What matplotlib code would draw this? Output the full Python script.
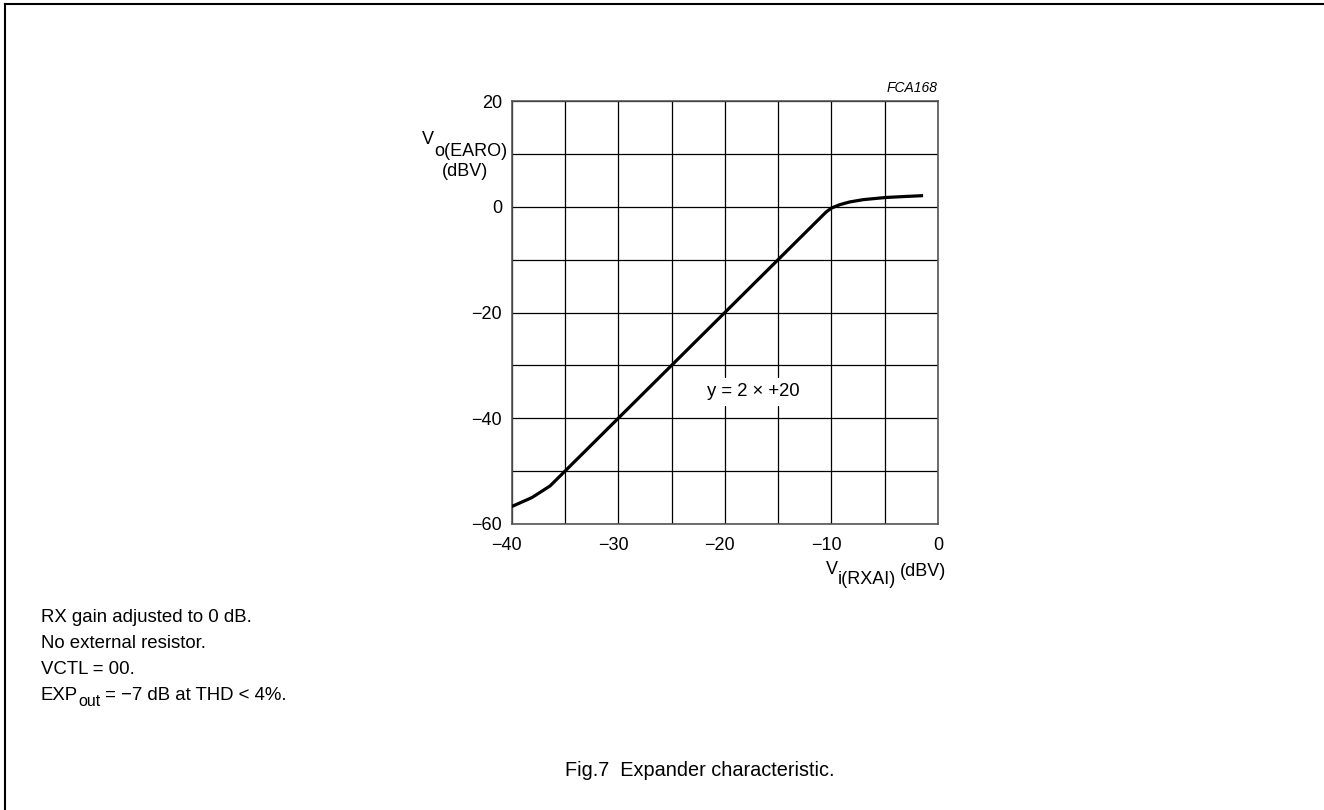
import matplotlib.pyplot as plt
from matplotlib.lines import Line2D
from matplotlib.transforms import ScaledTranslation

plt.rcParams['font.family'] = ['Liberation Sans', 'DejaVu Sans']

# expander curve
vin = [-40, -38.1, -36.4, -35, -30, -25, -20, -15, -12, -11.2, -10.5, -10, -9.2, -8.3, -7, -4.9, -3, -1.4]
vout = [-56.7, -55, -52.8, -50, -40, -30, -20, -10, -4, -2.4, -1.0, -0.25, 0.4, 0.9, 1.35, 1.75, 1.95, 2.1]

xticks = [-40, -30, -20, -10, 0]
yticks = [-60, -40, -20, 0, 20]
notes = ['RX gain adjusted to 0 dB.', 'No external resistor.', 'VCTL = 00.', None]

fig = plt.figure(figsize=(13.24, 8.10), dpi=100)
W, H = 1324, 810
l, r, t, b = 511.7, 938, 101, 524
ax = fig.add_axes([l / W, 1 - b / H, (r - l) / W, (b - t) / H])

ax.plot(vin, vout, color='black', lw=2.3, solid_capstyle='butt', zorder=3)
ax.set_xlim(-40, 0)
ax.set_ylim(-60, 20)
ax.set_xticks(range(-40, 1, 5))
ax.set_yticks(range(-60, 21, 10))
ax.set_xticklabels([str(v).replace('-', '\u2212') if v in xticks else '' for v in range(-40, 1, 5)])
ax.set_yticklabels([str(v).replace('-', '\u2212') if v in yticks else '' for v in range(-60, 21, 10)])
ax.tick_params(length=0, labelsize=13)
ax.tick_params(axis='x', pad=9)
ax.tick_params(axis='y', pad=7)
# digits centred on the grid line, minus sign hangs to the left
for lab in ax.get_xticklabels():
    if lab.get_text().startswith('\u2212'):
        lab.set_transform(lab.get_transform() + ScaledTranslation(-5 / 100, 0, fig.dpi_scale_trans))
ax.grid(True, color='black', lw=0.9)
for s in ax.spines.values():
    s.set_color('#555555')
    s.set_linewidth(1.2)

ax.text(-17.3, -35, 'y = 2 \u00d7 +20', fontsize=13.3, ha='center', va='center',
        bbox=dict(facecolor='white', edgecolor='none', pad=4), zorder=2)

fs = 13
# y label: V with full-size subscript
sub_y = fig.text(507 / W, 1 - 151 / H, 'o(EARO)', fontsize=fs, ha='right', va='center')
ax.annotate('V', xy=(0, 0.5), xycoords=sub_y, xytext=(0, 11), textcoords='offset pixels',
            fontsize=fs, ha='right', va='center', annotation_clip=False)
fig.text(465 / W, 1 - 172 / H, '(dBV)', fontsize=fs, ha='center', va='center')

# x label
dbv = fig.text(946 / W, 1 - 572 / H, '(dBV)', fontsize=fs, ha='right', va='center')
sub_x = ax.annotate('i(RXAI)', xy=(0, 0.5), xycoords=dbv, xytext=(-4, -8), textcoords='offset pixels',
                    fontsize=fs, ha='right', va='center', annotation_clip=False)
ax.annotate('V', xy=(0, 0.5), xycoords=sub_x, xytext=(0, 10), textcoords='offset pixels',
            fontsize=fs, ha='right', va='center', annotation_clip=False)

fig.text(938 / W, 1 - 88 / H, 'FCA168', fontsize=10, style='italic', ha='right', va='center')

nfs = 13.4
for i, n in enumerate(notes[:3]):
    fig.text(41 / W, 1 - (617 + i * 26.5) / H, n, fontsize=nfs, ha='left', va='center')
exp = fig.text(41 / W, 1 - 696 / H, 'EXP', fontsize=nfs, ha='left', va='center')
out = ax.annotate('out', xy=(1, 0.5), xycoords=exp, xytext=(0, -5), textcoords='offset pixels',
                  fontsize=11.5, ha='left', va='center', annotation_clip=False)
ax.annotate(' = \u22127 dB at THD < 4%.', xy=(1, 0.5), xycoords=out, xytext=(0, 5), textcoords='offset pixels',
            fontsize=nfs, ha='left', va='center', annotation_clip=False)

fig.text(565 / W, 1 - 770 / H, 'Fig.7  Expander characteristic.', fontsize=14.3, ha='left', va='center')

# page frame
fig.add_artist(Line2D([4.5 / W, 4.5 / W], [0, 1 - 3.5 / H], transform=fig.transFigure, color='black', lw=1.5))
fig.add_artist(Line2D([4.5 / W, 1], [1 - 3.5 / H, 1 - 3.5 / H], transform=fig.transFigure, color='black', lw=1.5))

fig.savefig('out.png', dpi=100)
